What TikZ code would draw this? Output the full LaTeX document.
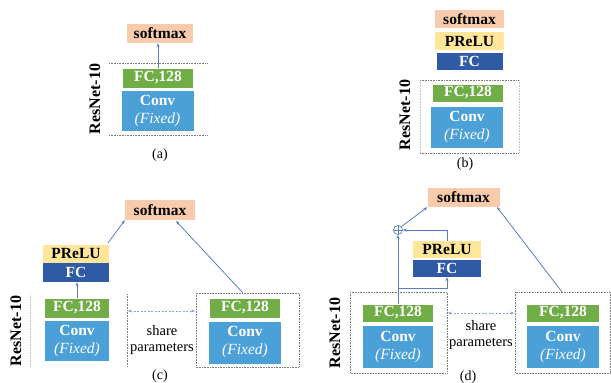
\documentclass[tikz,border=0pt]{standalone}
\usepackage{fontspec}
\setmainfont{Liberation Serif}
\usetikzlibrary{arrows.meta}

\definecolor{cSoft}{HTML}{F8CBAD}
\definecolor{cPrelu}{HTML}{FFE699}
\definecolor{cFc}{HTML}{2F5AA6}
\definecolor{cFc128}{HTML}{70AD47}
\definecolor{cConv}{HTML}{4BA0D8}
\definecolor{cLink}{HTML}{5A7FC0}
\definecolor{cFrame}{HTML}{7A7A7A}

\tikzset{
  blk/.style={rectangle, inner sep=0pt, align=center,
    font=\bfseries\fontsize{15.5}{17}\selectfont},
  softbox/.style={blk, fill=cSoft, text=black},
  prelubox/.style={blk, fill=cPrelu, text=black},
  fcbox/.style={blk, fill=cFc, text=white},
  fcbbox/.style={blk, fill=cFc128, text=white},
  convbox/.style={blk, fill=cConv, text=white,
    font=\bfseries\fontsize{15.5}{18}\selectfont},
  frame/.style={cFrame, line width=1pt, dash pattern=on 0.8pt off 0.8pt},
  faintframe/.style={cFrame!45, line width=0.9pt, dash pattern=on 0.8pt off 0.8pt},
  link/.style={cLink, line width=0.8pt, -{Stealth[length=4pt,width=3pt]}},
  sharelink/.style={cLink!70, line width=0.7pt, dash pattern=on 2pt off 1.5pt,
    {Stealth[length=3.5pt,width=3pt]}-{Stealth[length=3.5pt,width=3pt]}},
  netlabel/.style={rotate=90, font=\bfseries\fontsize{16}{16}\selectfont},
  caption/.style={font=\fontsize{14}{14}\selectfont},
  sharetext/.style={align=center, font=\fontsize{14.5}{16}\selectfont},
}

\newcommand{\convtext}{Conv\\{\mdseries\itshape (Fixed)}}

\begin{document}
\begin{tikzpicture}[x=1pt,y=-1pt]
\useasboundingbox (0,0) rectangle (611,383);

% ---------------- (a) ----------------
\node[softbox, minimum width=66pt, minimum height=19pt] (sa) at (160,33.5) {softmax};
\node[fcbbox, minimum width=70pt, minimum height=19pt] (fa) at (158,78) {FC,128};
\node[convbox, minimum width=72pt, minimum height=40pt] (ca) at (157.5,111) {\convtext};
\coordinate (aTL) at (109,63);
\coordinate (aTR) at (208,63);
\coordinate (aBL) at (109,135);
\coordinate (aBR) at (208,135);
\draw[frame] (aTL) -- (aTR);
\draw[frame] (aBL) -- (aBR);
\draw[link] (fa.north) -- (sa.south -| fa.north);
\node[netlabel] (la) at (95,99) {ResNet-10};
\node[caption] (capa) at (160,155) {(a)};

% ---------------- (b) ----------------
\node[softbox, minimum width=69pt, minimum height=18pt] (sb) at (469.5,19) {softmax};
\node[prelubox, minimum width=69pt, minimum height=18pt] (pb) at (469.5,41) {PReLU};
\node[fcbox, minimum width=66pt, minimum height=17pt] (fcb) at (469.5,61.5) {FC};
\node[fcbbox, minimum width=70pt, minimum height=17pt] (fb) at (468,93) {FC,128};
\node[convbox, minimum width=72pt, minimum height=41pt] (cb) at (467,127.5) {\convtext};
\coordinate (bTL) at (420,80);
\coordinate (bTR) at (519,80);
\coordinate (bBL) at (420,153);
\coordinate (bBR) at (519,153);
\draw[faintframe] (bTL) -- (bBL);
\draw[faintframe] (bTR) -- (bBR);
\draw[frame] (bTL) -- (bTR);
\draw[frame] (bBL) -- (bBR);
\node[netlabel] (lb) at (405,115) {ResNet-10};
\node[caption] (capb) at (465,164) {(b)};

% ---------------- (c) ----------------
\node[softbox, minimum width=70pt, minimum height=20pt] (sc) at (160,210) {softmax};
\node[prelubox, minimum width=66pt, minimum height=18pt] (pc) at (76,253.5) {PReLU};
\node[fcbox, minimum width=66pt, minimum height=19pt] (fcc) at (76,272.5) {FC};
\node[fcbbox, minimum width=64pt, minimum height=19pt] (fcl) at (77,308) {FC,128};
\node[convbox, minimum width=64pt, minimum height=40pt] (ccl) at (77,341) {\convtext};
\node[fcbbox, minimum width=70pt, minimum height=19pt] (fcr) at (245,308) {FC,128};
\node[convbox, minimum width=72pt, minimum height=42pt] (ccr) at (245,342.5) {\convtext};
% frames around the two branches
\coordinate (cLT) at (30,294);
\coordinate (cLB) at (30,367);
\coordinate (cRT) at (127,294);
\coordinate (cRB) at (127,367);
\draw[faintframe] (cLT) -- (cLB);
\draw[frame] (cRT) -- (cRB);
\draw[frame] (196,293) rectangle (299,367);
\coordinate (cShareL) at (128,311);
\coordinate (cShareR) at (195,311);
\draw[sharelink] (cShareL) -- (cShareR);
\node[sharetext] (shc) at (162,340) {share\\parameters};
% connectors
\draw[link] (fcl.north) -- (fcc.south -| fcl.north);
\coordinate (cPout) at (108,243);
\coordinate (cRout) at (243,293);
\draw[link] (cPout) -- (sc.south west);
\draw[link] (cRout) -- (176,221);
\node[netlabel] (lc) at (16,331) {ResNet-10};
\node[caption] (capc) at (160,376) {(c)};

% ---------------- (d) ----------------
\node[softbox, minimum width=72pt, minimum height=19pt] (sd) at (463.5,197.5) {softmax};
\node[prelubox, minimum width=68pt, minimum height=17pt] (pd) at (447,249.5) {PReLU};
\node[fcbox, minimum width=68pt, minimum height=17pt] (fcd) at (447,268.5) {FC};
\node[fcbbox, minimum width=70pt, minimum height=17pt] (fdl) at (398,313) {FC,128};
\node[convbox, minimum width=70pt, minimum height=42pt] (cdl) at (398,347) {\convtext};
\node[fcbbox, minimum width=72pt, minimum height=17pt] (fdr) at (563,313) {FC,128};
\node[convbox, minimum width=72pt, minimum height=42pt] (cdr) at (563,347) {\convtext};
\draw[frame] (350,292) rectangle (447,373);
\draw[frame] (515,292) rectangle (610,373);
\coordinate (dShareL) at (448,313);
\coordinate (dShareR) at (514,313);
\draw[sharelink] (dShareL) -- (dShareR);
\node[sharetext] (shd) at (481,335) {share\\parameters};
% element-wise sum node
\node[circle, draw=cLink, line width=0.7pt, minimum size=9pt, inner sep=0pt] (sum) at (398,230) {};
\draw[cLink, line width=0.7pt] (sum.north) -- (sum.south) (sum.west) -- (sum.east);
% connectors
\coordinate (dSplit) at (398,288);
\draw[link] (fdl.north) -- (sum.south);
\draw[link] (dSplit) -- (dSplit -| fcd.south) -- (fcd.south);
\draw[link] (pd.north) -- (pd.north |- sum.east) -- (sum.east);
\draw[link] (sum.north east) -- (sd.south west);
\coordinate (dRout) at (562,292);
\draw[link] (dRout) -- (497,207);
\node[netlabel] (ld) at (335,333) {ResNet-10};
\node[caption] (capd) at (468,377) {(d)};
\end{tikzpicture}
\end{document}
